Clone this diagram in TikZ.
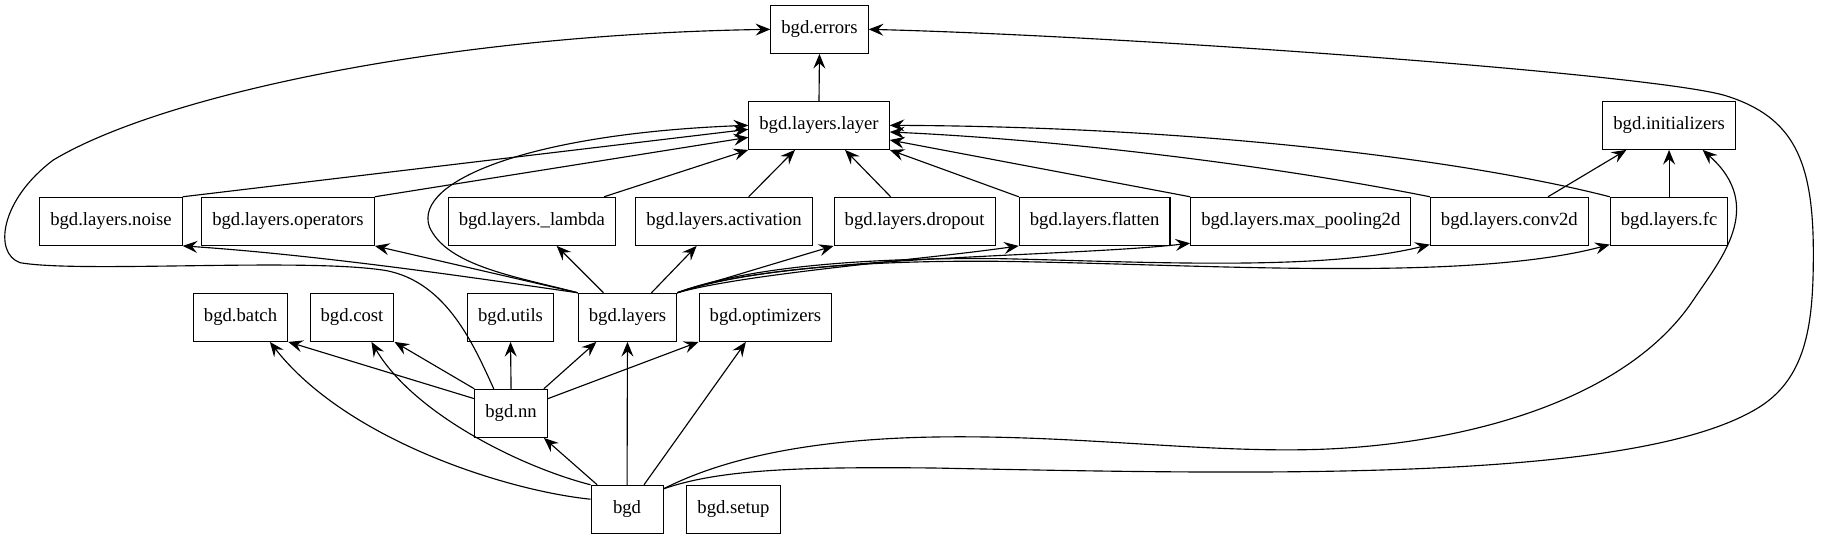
\documentclass[tikz,border=0pt]{standalone}
\usepackage{fontspec}
\setmainfont{Liberation Serif}
\usetikzlibrary{arrows.meta}
\begin{document}
\begin{tikzpicture}[x=1pt,y=-1pt,
  mod/.style={draw, line width=0.85pt, rectangle, minimum height=36pt, minimum width=54pt,
    inner xsep=7.92pt, inner ysep=0pt, font=\fontsize{14}{16}\selectfont,
    text height=9.5pt, text depth=3pt},
  edge/.style={line width=0.85pt, -{Stealth[length=11pt,width=9pt,inset=4pt]}}]
\useasboundingbox (0,0) rectangle (1365.75,404.25);
% nodes
\node[mod] (errors) at (614.6,22) {bgd.errors};
\node[mod] (layer) at (614.25,94) {bgd.layers.layer};
\node[mod] (init) at (1251.8,94) {bgd.initializers};
\node[mod] (noise) at (83.2,166) {bgd.layers.noise};
\node[mod] (ops) at (216,166) {bgd.layers.operators};
\node[mod] (lambda) at (398.9,166) {bgd.layers.\_lambda};
\node[mod] (act) at (543,166) {bgd.layers.activation};
\node[mod] (drop) at (686,166) {bgd.layers.dropout};
\node[mod] (flat) at (821,166) {bgd.layers.flatten};
\node[mod] (pool) at (975.6,166) {bgd.layers.max\_pooling2d};
\node[mod] (conv) at (1132,166) {bgd.layers.conv2d};
\node[mod] (fc) at (1251.8,166) {bgd.layers.fc};
\node[mod] (batch) at (180.4,238) {bgd.batch};
\node[mod] (cost) at (264,238) {bgd.cost};
\node[mod] (utils) at (382.9,238) {bgd.utils};
\node[mod] (layers) at (470.6,238) {bgd.layers};
\node[mod] (opt) at (574.1,238) {bgd.optimizers};
\node[mod] (nn) at (383.3,310) {bgd.nn};
\node[mod] (bgd) at (470.3,382) {bgd};
\node[mod] (setup) at (550.1,382) {bgd.setup};
% edges to errors
\draw[edge] (layer.north) -- (errors.south);
\draw[edge] ([xshift=-13pt]nn.north) .. controls (355,258) and (335,212) .. (290,203)
  .. controls (230,193) and (60,205) .. (15,197)
  .. controls (-5,190) and (0,150) .. (40,120)
  .. controls (120,72) and (330,26) .. (errors.west);
\draw[edge] ([yshift=-3pt]bgd.north east) .. controls (540,352) and (600,350) .. (700,351)
  .. controls (950,356) and (1230,362) .. (1320,305)
  .. controls (1356,282) and (1360,240) .. (1360,190)
  .. controls (1360,120) and (1345,88) .. (1295,72)
  .. controls (1245,56) and (850,27) .. (errors.east);
% edges to initializers
\draw[edge] ([yshift=-3pt]bgd.north east) .. controls (550,340) and (620,330) .. (690,328)
  .. controls (800,325) and (900,340) .. (990,337)
  .. controls (1100,333) and (1220,300) .. (1270,225)
  .. controls (1290,195) and (1325,155) .. ([xshift=-25pt]init.south east);
\draw[edge] ([xshift=29pt]conv.north) -- ([xshift=-32pt]init.south);
\draw[edge] (fc.north) -- (init.south);
% row 2 -> layer
\draw[edge] (noise.north east) -- ([yshift=-3pt]layer.west);
\draw[edge] (ops.north east) -- ([yshift=-9pt]layer.west);
\draw[edge] ([xshift=-9pt]lambda.north east) -- (layer.south west);
\draw[edge] ([xshift=18.5pt]act.north) -- ([xshift=-18pt]layer.south);
\draw[edge] ([xshift=-18pt]drop.north) -- ([xshift=19.5pt]layer.south);
\draw[edge] (flat.north west) -- (layer.south east);
\draw[edge] (pool.north west) -- ([yshift=-11pt]layer.east);
\draw[edge] (conv.north west) .. controls (960,125) and (800,105) .. ([yshift=-5pt]layer.east);
\draw[edge] (fc.north west) .. controls (1100,120) and (900,95) .. (layer.east);
\draw[edge] (layers.north west) .. controls (390,208) and (335,200) .. (322,170)
  .. controls (310,135) and (400,100) .. (layer.west);
% layers -> row 2
\draw[edge] (layers.north west) .. controls (380,212) and (250,192) .. (noise.south east);
\draw[edge] (layers.north west) -- (ops.south east);
\draw[edge] ([xshift=-18pt]layers.north) -- ([xshift=18.6pt]lambda.south);
\draw[edge] ([xshift=18pt]layers.north) -- ([xshift=-20.5pt]act.south);
\draw[edge] (layers.north east) -- (drop.south west);
\draw[edge] (layers.north east) .. controls (560,205) and (690,195) .. (flat.south west);
\draw[edge] (layers.north east) .. controls (580,192) and (800,193) .. ([yshift=2pt]pool.south west);
\draw[edge] (layers.north east) .. controls (560,200) and (650,193) .. (750,194)
  .. controls (850,196) and (990,204) .. ([yshift=1pt]conv.south west);
\draw[edge] (layers.north east) .. controls (560,202) and (650,195) .. (750,196)
  .. controls (900,198) and (1100,212) .. ([yshift=1pt]fc.south west);
% nn edges
\draw[edge] ([yshift=11pt]nn.west) -- (batch.south east);
\draw[edge] (nn.north west) -- (cost.south east);
\draw[edge] (nn.north) -- (utils.south);
\draw[edge] ([xshift=-3pt]nn.north east) -- ([xshift=14pt]layers.south west);
\draw[edge] ([yshift=11pt]nn.east) -- (opt.south west);
% bgd edges
\draw[edge] ([xshift=5pt]bgd.north west) -- ([xshift=-3pt]nn.south east);
\draw[edge] (bgd.north) -- (layers.south);
\draw[edge] ([xshift=12.7pt]bgd.north) -- ([xshift=-14.7pt]opt.south);
\draw[edge] (bgd.north west) .. controls (390,350) and (310,310) .. ([xshift=14.6pt]cost.south);
\draw[edge] ([yshift=7.6pt]bgd.west) .. controls (380,368) and (260,330) .. ([xshift=22pt]batch.south);
\end{tikzpicture}
\end{document}
